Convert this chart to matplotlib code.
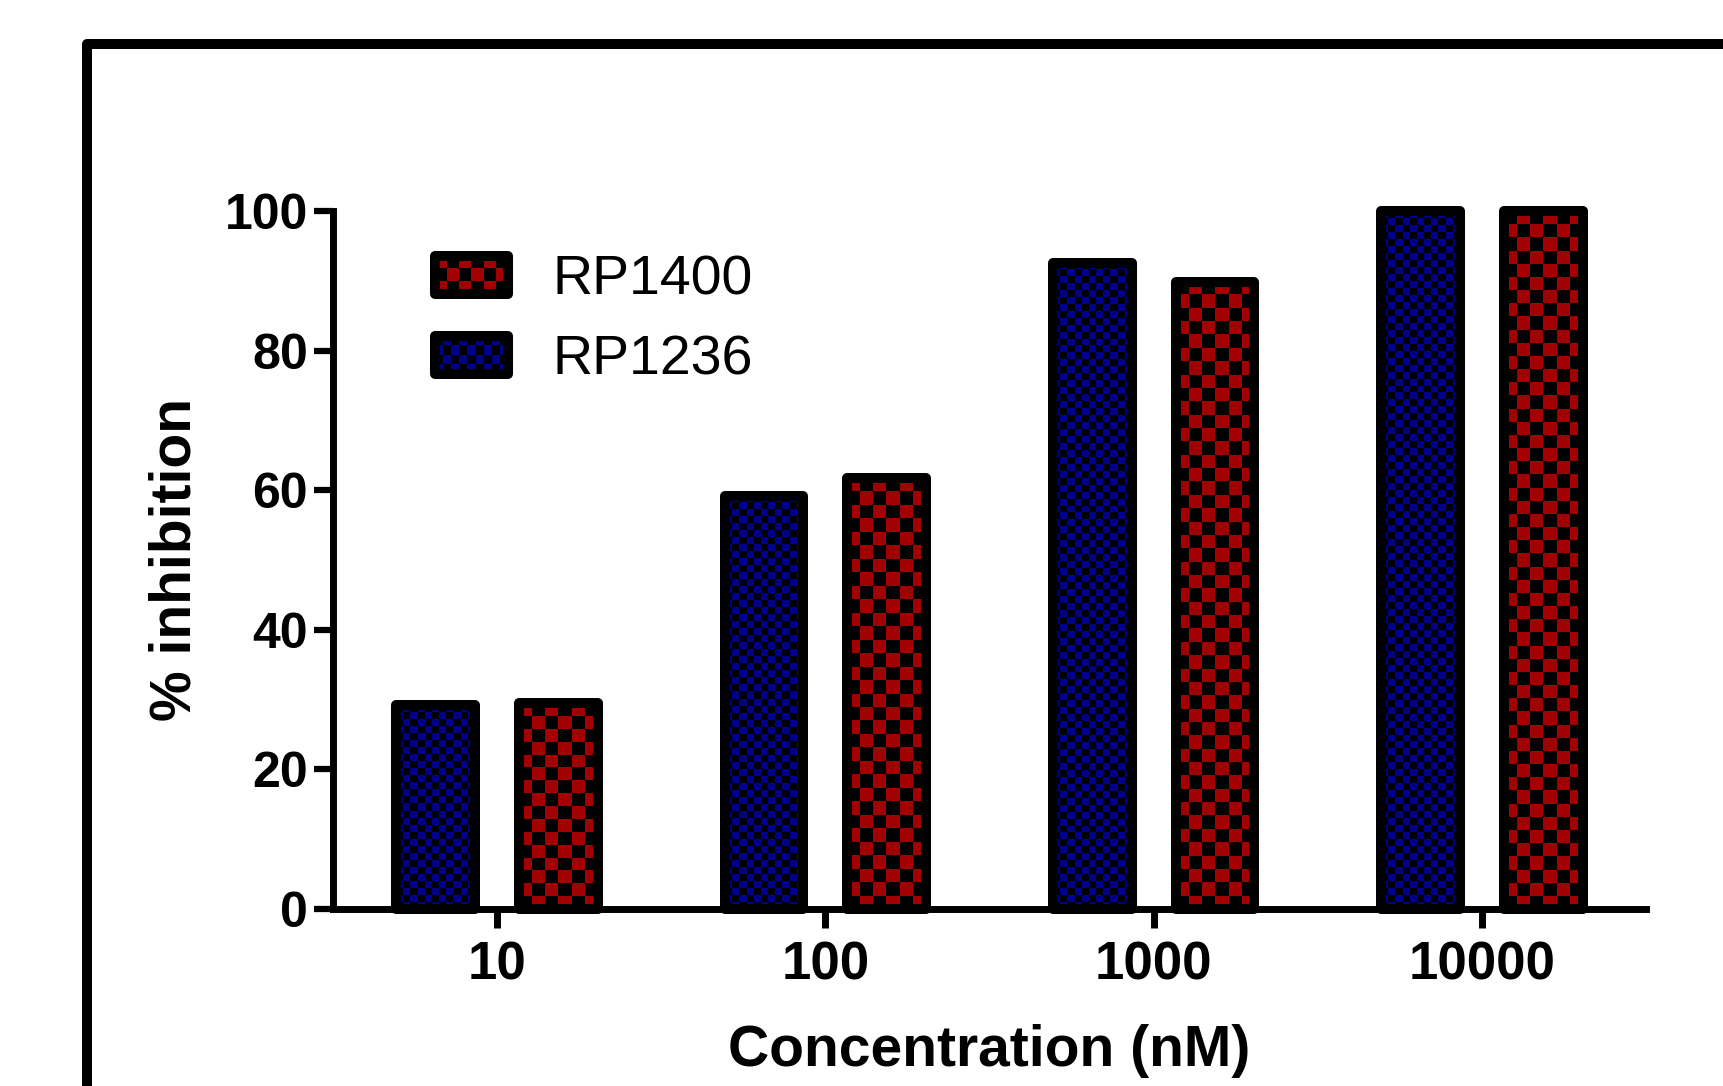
#!/usr/bin/env python3
# -*- coding: utf-8 -*-
"""
% inhibition vs concentration, RP1236 / RP1400 checker bars
"""

# %% 1. Libraries and data
# ----------------------------------------------------------------------------
# ============================================================================

import numpy as np
import matplotlib
matplotlib.use('Agg')
import matplotlib.pyplot as plt
from matplotlib.patches import Rectangle, Patch
from matplotlib.lines import Line2D
from matplotlib.legend_handler import HandlerBase

plt.rcParams['font.family'] = ['Liberation Sans', 'DejaVu Sans']

conc_labels = ['10', '100', '1000', '10000']
rp1236 = [29.2, 59.2, 92.6, 100.0]
rp1400 = [29.5, 61.7, 89.9, 100.0]

blue = '#00008C'
red = '#A00000'

# %% 2. Helpers
# ----------------------------------------------------------------------------
# ============================================================================

def checker(nrows, ncols):
    # 1 = colour cell, 0 = black cell
    return (np.indices((nrows, ncols)).sum(axis=0) % 2).astype(float)


def checker_bar(ax, x, height, width, color, cell_w, cell_h):
    # fill the bar with a checkerboard image, then draw the thick black outline
    ncols = max(1, int(round(width / cell_w)))
    nrows = max(1, int(round(height / cell_h)))
    cmap = matplotlib.colors.ListedColormap(['black', color])
    ax.imshow(checker(nrows, ncols), cmap=cmap, vmin=0, vmax=1,
              extent=(x - width / 2, x + width / 2, 0, height),
              origin='lower', aspect='auto', interpolation='nearest',
              zorder=2, clip_on=False)
    ax.add_patch(Rectangle((x - width / 2, 0), width, height,
                           facecolor='none', edgecolor='black', lw=7.2,
                           joinstyle='round', zorder=3, clip_on=False))


class CheckerHandler(HandlerBase):
    def __init__(self, color, ncols, nrows):
        super().__init__()
        self.color = color
        self.ncols = ncols
        self.nrows = nrows

    def create_artists(self, legend, orig_handle, xdescent, ydescent,
                       width, height, fontsize, trans):
        arts = []
        cw = width / self.ncols
        ch = height / self.nrows
        for i in range(self.nrows):
            for j in range(self.ncols):
                c = self.color if (i + j) % 2 == 0 else 'black'
                arts.append(Rectangle((-xdescent + j * cw, -ydescent + i * ch),
                                      cw, ch, facecolor=c, edgecolor='none',
                                      transform=trans))
        arts.append(Rectangle((-xdescent, -ydescent), width, height,
                              facecolor='none', edgecolor='black', lw=7.2,
                              joinstyle='round', transform=trans))
        return arts

# %% 3. Plot
# ----------------------------------------------------------------------------
# ============================================================================

fig = plt.figure(figsize=(17.24, 10.86), dpi=100)

# big outer frame (runs off the right and bottom edge)
fig.add_artist(Line2D([0.0505, 0.0505, 1.05], [-0.05, 0.9595, 0.9595],
                      color='black', lw=7.2, solid_joinstyle='round',
                      transform=fig.transFigure))

ax = fig.add_axes([0.1932, 0.1630, 0.7616, 0.6427])

x = np.arange(len(conc_labels))
bar_w = 0.24
offset = 0.187

for i in range(len(x)):
    checker_bar(ax, x[i] - offset, rp1236[i], bar_w, blue, 0.0213, 1.0)
    checker_bar(ax, x[i] + offset, rp1400[i], bar_w, red, 0.04, 1.9)

ax.set_xlim(-0.5, 3.5)
ax.set_ylim(0, 100)

for s in ['top', 'right']:
    ax.spines[s].set_visible(False)
for s in ['left', 'bottom']:
    ax.spines[s].set_linewidth(5)
    ax.spines[s].set_zorder(4)

ax.set_xticks(x)
ax.set_xticklabels(conc_labels, fontsize=38, fontweight='bold')
ax.set_yticks(np.arange(0, 101, 20))
ax.set_yticklabels([str(v) for v in range(0, 101, 20)], fontsize=36,
                   fontweight='bold')
ax.tick_params(axis='x', length=14, width=5, pad=9)
ax.tick_params(axis='y', length=14, width=4.5, pad=4)

ax.set_xlabel('Concentration (nM)', fontsize=41, fontweight='bold', labelpad=24)
ax.set_ylabel('% inhibition', fontsize=41, fontweight='bold', labelpad=16)

# legend with checker handles
h_red = Patch(facecolor=red)
h_blue = Patch(facecolor=blue)
ax.legend([h_red, h_blue], ['RP1400', 'RP1236'],
          handler_map={h_red: CheckerHandler(red, 6, 3),
                       h_blue: CheckerHandler(blue, 9, 4)},
          loc='upper left', bbox_to_anchor=(0.0777, 0.938), frameon=False,
          fontsize=40, handlelength=1.31, handleheight=0.68,
          handletextpad=0.8, labelspacing=0.5, borderpad=0,
          borderaxespad=0)

fig.savefig('out.png', dpi=100)
